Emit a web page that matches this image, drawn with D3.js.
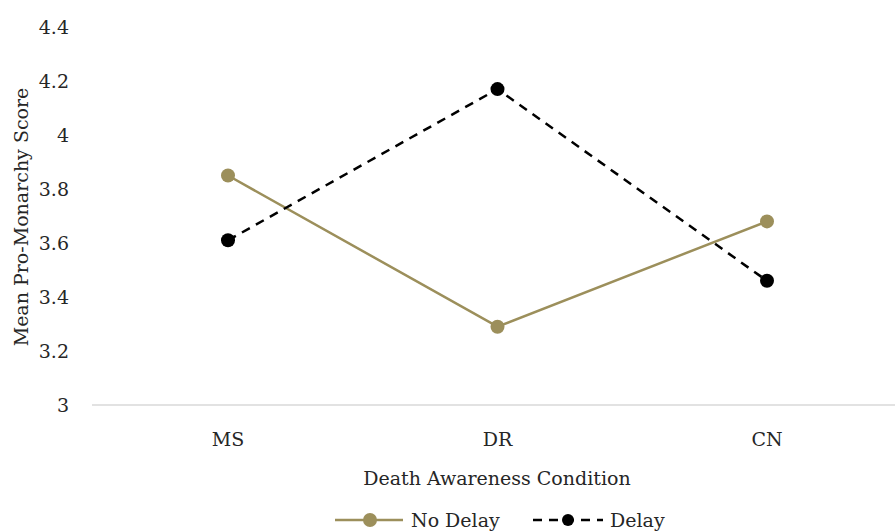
<!DOCTYPE html>
<html><head><meta charset="utf-8">
<script src="https://cdn.jsdelivr.net/npm/d3@7"></script>
<style>body{margin:0;background:#fff}svg{display:block}</style>
</head><body>
<svg id="c" width="895" height="531"></svg>
<script>
const categories = ["MS", "DR", "CN"];
const noDelay = [3.85, 3.29, 3.68];
const delay = [3.61, 4.17, 3.46];
const yTicks = [3, 3.2, 3.4, 3.6, 3.8, 4, 4.2, 4.4];
const seriesNames = ["No Delay", "Delay"];

const svg = d3.select("#c");
const font = "'DejaVu Serif', 'Liberation Serif', serif";
const fs = 19;
const txt = "#262626";
const x = d3.scalePoint().domain(categories).range([228, 767]);
const y = d3.scaleLinear().domain([3, 4.4]).range([405, 27]);
const gold = "#9c8f5b";

// axis line
svg.append("line").attr("x1", 92).attr("x2", 895).attr("y1", y(3)).attr("y2", y(3))
  .attr("stroke", "#d9d9d9").attr("stroke-width", 1.5);

// y tick labels
svg.append("g").selectAll("text").data(yTicks).join("text")
  .attr("x", 69).attr("y", d => y(d)).attr("dy", "0.35em")
  .attr("text-anchor", "end").attr("font-family", font).attr("font-size", fs).attr("fill", txt)
  .text(d => d3.format("")(d));

// x tick labels
svg.append("g").selectAll("text").data(categories).join("text")
  .attr("x", d => x(d)).attr("y", 439).attr("dy", "0.35em")
  .attr("text-anchor", "middle").attr("font-family", font).attr("font-size", fs).attr("fill", txt)
  .text(d => d);

// axis titles
svg.append("text").attr("x", 497).attr("y", 478).attr("dy", "0.35em").attr("text-anchor", "middle")
  .attr("font-family", font).attr("font-size", fs).attr("fill", txt).text("Death Awareness Condition");
svg.append("text").attr("transform", "translate(21,217) rotate(-90)").attr("dy", "0.35em").attr("text-anchor", "middle")
  .attr("font-family", font).attr("font-size", fs).attr("fill", txt).text("Mean Pro-Monarchy Score");

const line = d3.line().x((d, i) => x(categories[i])).y(d => y(d));

svg.append("path").datum(noDelay).attr("d", line).attr("fill", "none").attr("stroke", gold).attr("stroke-width", 2.5);
svg.append("g").selectAll("circle").data(noDelay).join("circle")
  .attr("cx", (d, i) => x(categories[i])).attr("cy", d => y(d)).attr("r", 7).attr("fill", gold);

svg.append("path").datum(delay).attr("d", line).attr("fill", "none").attr("stroke", "#000").attr("stroke-width", 2.5)
  .attr("stroke-dasharray", "9,7");
svg.append("g").selectAll("circle").data(delay).join("circle")
  .attr("cx", (d, i) => x(categories[i])).attr("cy", d => y(d)).attr("r", 7).attr("fill", "#000");

// legend
const lg = svg.append("g");
const ly = 520;
lg.append("line").attr("x1", 335).attr("x2", 403).attr("y1", ly).attr("y2", ly).attr("stroke", gold).attr("stroke-width", 2.5);
lg.append("circle").attr("cx", 370).attr("cy", ly).attr("r", 7).attr("fill", gold);
lg.append("text").attr("x", 411).attr("y", ly).attr("dy", "0.35em").attr("font-family", font).attr("font-size", fs).attr("fill", txt).text(seriesNames[0]);
lg.append("line").attr("x1", 533).attr("x2", 603).attr("y1", ly).attr("y2", ly).attr("stroke", "#000").attr("stroke-width", 2.5).attr("stroke-dasharray", "9,7");
lg.append("circle").attr("cx", 568).attr("cy", ly).attr("r", 6).attr("fill", "#000");
lg.append("text").attr("x", 610).attr("y", ly).attr("dy", "0.35em").attr("font-family", font).attr("font-size", fs).attr("fill", txt).text(seriesNames[1]);
</script>
</body></html>
